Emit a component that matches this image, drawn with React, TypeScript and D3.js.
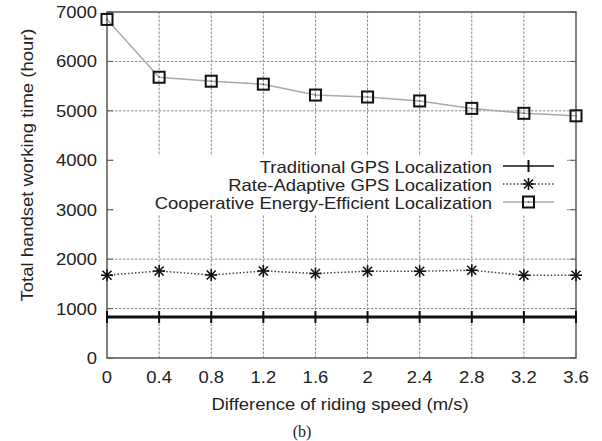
import React from "react";
import * as d3 from "d3";

const speeds = [0, 0.4, 0.8, 1.2, 1.6, 2, 2.4, 2.8, 3.2, 3.6];
const traditional = [830, 830, 830, 830, 830, 830, 830, 830, 830, 830];
const rateAdaptive = [1675, 1760, 1680, 1760, 1710, 1755, 1755, 1775, 1675, 1675];
const cooperative = [6850, 5680, 5600, 5540, 5320, 5280, 5200, 5050, 4950, 4900];
const yTicks = [0, 1000, 2000, 3000, 4000, 5000, 6000, 7000];
const xTickLabels = ["0", "0.4", "0.8", "1.2", "1.6", "2", "2.4", "2.8", "3.2", "3.6"];
const legendLabels = [
  "Traditional GPS Localization",
  "Rate-Adaptive GPS Localization",
  "Cooperative Energy-Efficient Localization",
];

const width = 602;
const height = 441;
const margin = { top: 12, right: 26, bottom: 83, left: 107 };
const font = "'Liberation Sans', Arial, Helvetica, sans-serif";
const stretch = 1.12; // the reference text is a bit wider than Liberation Sans

// text with a small horizontal stretch
const Label = ({
  x,
  y,
  anchor,
  rotate = 0,
  children,
}: {
  x: number;
  y: number;
  anchor: "start" | "middle" | "end";
  rotate?: number;
  children: React.ReactNode;
}) => (
  <text
    transform={`translate(${x},${y}) rotate(${rotate}) scale(${stretch},1)`}
    fontFamily={font}
    fontSize={16.5}
    fill="#222"
    textAnchor={anchor}
  >
    {children}
  </text>
);

// asterisk marker: + and x overlaid
const Star = ({ cx, cy }: { cx: number; cy: number }) => {
  const r = 6;
  const d = 4.5;
  return (
    <g stroke="#111" strokeWidth={1.6}>
      <line x1={cx} y1={cy - r} x2={cx} y2={cy + r} />
      <line x1={cx - r} y1={cy} x2={cx + r} y2={cy} />
      <line x1={cx - d} y1={cy - d} x2={cx + d} y2={cy + d} />
      <line x1={cx - d} y1={cy + d} x2={cx + d} y2={cy - d} />
    </g>
  );
};

const Square = ({ cx, cy }: { cx: number; cy: number }) => (
  <g>
    <rect x={cx - 5.5} y={cy - 5.5} width={11} height={11} fill="none" stroke="#111" strokeWidth={2} />
    <circle cx={cx} cy={cy} r={0.8} fill="#333" />
  </g>
);

const Plus = ({ cx, cy }: { cx: number; cy: number }) => (
  <line x1={cx} y1={cy - 6} x2={cx} y2={cy + 6} stroke="#111" strokeWidth={2} />
);

export default function App() {
  const x = d3
    .scaleLinear()
    .domain([0, 3.6])
    .range([margin.left, width - margin.right]);
  const y = d3
    .scaleLinear()
    .domain([0, 7000])
    .range([height - margin.bottom, margin.top]);

  const line = d3
    .line<number>()
    .x((_, i) => x(speeds[i]))
    .y((d) => y(d));

  const x0 = margin.left;
  const x1 = width - margin.right;
  const y0 = height - margin.bottom;
  const y1 = margin.top;

  // key box blanks the grid behind it
  const keyBox = { left: x0 + 8, right: x1 - 9, top: 156, bottom: 214 };
  const keyTextX = 492;
  const keyRows = [166, 184, 202];
  const keySample = [503, 554];

  return (
    <svg
      width={width}
      height={height}
      style={{ position: "absolute", left: 0, top: 0, background: "#fff" }}
    >
      {/* grid */}
      <g stroke="#888" strokeWidth={1} strokeDasharray="2.5,1.5">
        {yTicks.slice(1, -1).map((t) => (
          <line key={"gy" + t} x1={x0} x2={x1} y1={y(t)} y2={y(t)} />
        ))}
        {speeds.slice(1, -1).map((s) => (
          <line key={"gx" + s} x1={x(s)} x2={x(s)} y1={y0} y2={y1} />
        ))}
      </g>
      <rect
        x={keyBox.left}
        y={keyBox.top}
        width={keyBox.right - keyBox.left}
        height={keyBox.bottom - keyBox.top}
        fill="#fff"
      />

      {/* ticks */}
      <g stroke="#555" strokeWidth={1}>
        {yTicks.map((t) => (
          <g key={"ty" + t}>
            <line x1={x0} x2={x0 + 6} y1={y(t)} y2={y(t)} />
            <line x1={x1} x2={x1 - 6} y1={y(t)} y2={y(t)} />
          </g>
        ))}
      </g>

      {/* border */}
      <rect
        x={x0}
        y={y1}
        width={x1 - x0}
        height={y0 - y1}
        fill="none"
        stroke="#555"
        strokeWidth={1.5}
      />

      {/* tick labels */}
      {yTicks.map((t) => (
        <Label key={"ly" + t} x={x0 - 10} y={y(t) + 6} anchor="end">
          {t}
        </Label>
      ))}
      {speeds.map((s, i) => (
        <Label key={"lx" + s} x={x(s)} y={383} anchor="middle">
          {xTickLabels[i]}
        </Label>
      ))}

      {/* axis titles */}
      <Label x={340} y={410} anchor="middle">
        Difference of riding speed (m/s)
      </Label>
      <Label x={33} y={165} anchor="middle" rotate={-90}>
        Total handset working time (hour)
      </Label>
      <text
        x={302}
        y={437}
        fontFamily="'Liberation Serif', 'Times New Roman', serif"
        fontSize={16}
        fill="#222"
        textAnchor="middle"
      >
        (b)
      </text>

      {/* series */}
      <path d={line(cooperative) ?? ""} fill="none" stroke="#aaa" strokeWidth={1.5} />
      <path
        d={line(rateAdaptive) ?? ""}
        fill="none"
        stroke="#444"
        strokeWidth={1.5}
        strokeDasharray="1.5,2"
      />
      <path d={line(traditional) ?? ""} fill="none" stroke="#111" strokeWidth={3} />
      {speeds.map((s, i) => (
        <Plus key={"p" + s} cx={x(s)} cy={y(traditional[i])} />
      ))}
      {speeds.map((s, i) => (
        <Star key={"s" + s} cx={x(s)} cy={y(rateAdaptive[i])} />
      ))}
      {speeds.map((s, i) => (
        <Square key={"q" + s} cx={x(s)} cy={y(cooperative[i])} />
      ))}

      {/* legend */}
      {legendLabels.map((l, i) => (
        <Label key={l} x={keyTextX} y={keyRows[i] + 6.5} anchor="end">
          {l}
        </Label>
      ))}
      <line x1={keySample[0]} x2={keySample[1]} y1={keyRows[0]} y2={keyRows[0]} stroke="#111" strokeWidth={1.5} />
      <Plus cx={(keySample[0] + keySample[1]) / 2} cy={keyRows[0]} />
      <line
        x1={keySample[0]}
        x2={keySample[1]}
        y1={keyRows[1]}
        y2={keyRows[1]}
        stroke="#444"
        strokeWidth={1.5}
        strokeDasharray="1.5,2"
      />
      <Star cx={(keySample[0] + keySample[1]) / 2} cy={keyRows[1]} />
      <line x1={keySample[0]} x2={keySample[1]} y1={keyRows[2]} y2={keyRows[2]} stroke="#aaa" strokeWidth={1.5} />
      <Square cx={(keySample[0] + keySample[1]) / 2} cy={keyRows[2]} />
    </svg>
  );
}
